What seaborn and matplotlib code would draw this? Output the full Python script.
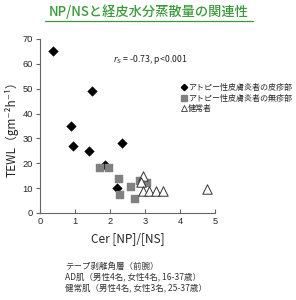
import matplotlib
matplotlib.use("Agg")
import matplotlib.pyplot as plt
import seaborn as sns
import pandas as pd
from matplotlib.lines import Line2D

sns.set_theme(style="white")
plt.rcParams['font.family'] = ['Noto Sans CJK JP', 'DejaVu Sans']

# Data
lesional_x = [0.37, 1.49, 0.88, 0.95, 1.41, 2.33, 1.86, 2.21]
lesional_y = [65.0, 49.0, 35.2, 26.8, 25.0, 28.0, 19.5, 10.0]
nonlesional_x = [1.71, 1.98, 2.27, 2.59, 2.29, 2.72, 2.86, 3.07]
nonlesional_y = [18.0, 18.0, 13.5, 10.6, 7.2, 5.5, 13.0, 12.0]
healthy_x = [2.95, 2.88, 2.95, 3.12, 3.31, 3.51, 4.76]
healthy_y = [14.8, 12.5, 8.8, 8.8, 8.8, 8.8, 9.5]

labels = ["アトピー性皮膚炎者の皮疹部", "アトピー性皮膚炎者の無疹部", "健常者"]
x_ticks = [0, 1, 2, 3, 4, 5]
y_ticks = [0, 10, 20, 30, 40, 50, 60, 70]

df_les = pd.DataFrame({"x": lesional_x, "y": lesional_y})
df_non = pd.DataFrame({"x": nonlesional_x, "y": nonlesional_y})
df_hea = pd.DataFrame({"x": healthy_x, "y": healthy_y})

fig = plt.figure(figsize=(2.96, 3.0), dpi=100)
ax = fig.add_axes([40/296, 1-213/300, 175/296, 174/300])

sns.scatterplot(data=df_les, x="x", y="y", marker="D", s=24, color="black",
                edgecolor="black", linewidth=0.3, ax=ax, zorder=3)
sns.scatterplot(data=df_non, x="x", y="y", marker="s", s=40, color="#808080",
                edgecolor="#808080", linewidth=0.3, ax=ax, zorder=4)
sns.scatterplot(data=df_hea, x="x", y="y", marker="^", s=46, color="white",
                edgecolor="#333333", linewidth=0.7, ax=ax, zorder=5)

ax.set_xlim(0, 5)
ax.set_ylim(0, 70)
ax.set_xticks(x_ticks)
ax.set_yticks(y_ticks)
ax.set_xticklabels([str(v) for v in x_ticks], fontsize=6.7, family=['Liberation Sans'])
ax.set_yticklabels([str(v) for v in y_ticks], fontsize=6.7, family=['Liberation Sans'])
for s in ["top", "right"]:
    ax.spines[s].set_visible(False)
for s in ["left", "bottom"]:
    ax.spines[s].set_color("#666666")
    ax.spines[s].set_linewidth(0.8)
ax.tick_params(axis="y", direction="out", length=3, width=0.8, color="#666666", pad=2, left=True)
ax.tick_params(axis="x", direction="in", length=3, width=0.8, color="#666666", pad=3, bottom=True)
ax.set_xlabel("Cer [NP]/[NS]", fontsize=8.5, labelpad=4)
ax.set_ylabel("TEWL（gm⁻²h⁻¹）", fontsize=8.5, labelpad=3)
ax.set_facecolor("white")

# correlation text
fig.text(113/296, 1-59/300, "$r_S$ = -0.73, p<0.001", fontsize=6.3, va="center", ha="left",
         color="#222222")

handles = [
    Line2D([], [], marker="D", linestyle="", color="black", markersize=3.2),
    Line2D([], [], marker="s", linestyle="", color="#808080", markersize=4),
    Line2D([], [], marker="^", linestyle="", markerfacecolor="white",
           markeredgecolor="#333333", markeredgewidth=0.6, markersize=4.5),
]
fig.legend(handles, labels, loc="upper left", bbox_to_anchor=(181/296, 1-83/300),
           fontsize=5.8, frameon=False, handlelength=0.7, handletextpad=0.15,
           labelspacing=0.2, borderpad=0, borderaxespad=0)

# title
fig.text(149/296, 1-12/300, "NP/NSと経皮水分蒸散量の関連性", fontsize=9.5, ha="center",
         va="center", color="#3a9a3a", fontweight="medium")
fig.add_artist(Line2D([45/296, 253/296], [1-21/300, 1-21/300], color="#3a9a3a", linewidth=0.9))

# notes
notes = ["テープ剥離角層（前腕）", "AD肌（男性4名, 女性4名, 16-37歳）", "健常肌（男性4名, 女性3名, 25-37歳）"]
for i, t in enumerate(notes):
    fig.text(65/296, 1-(266 + 11*i)/300, t, fontsize=6.1, ha="left", va="center", color="#333333")

fig.savefig("out.png", dpi=100, facecolor="white")
